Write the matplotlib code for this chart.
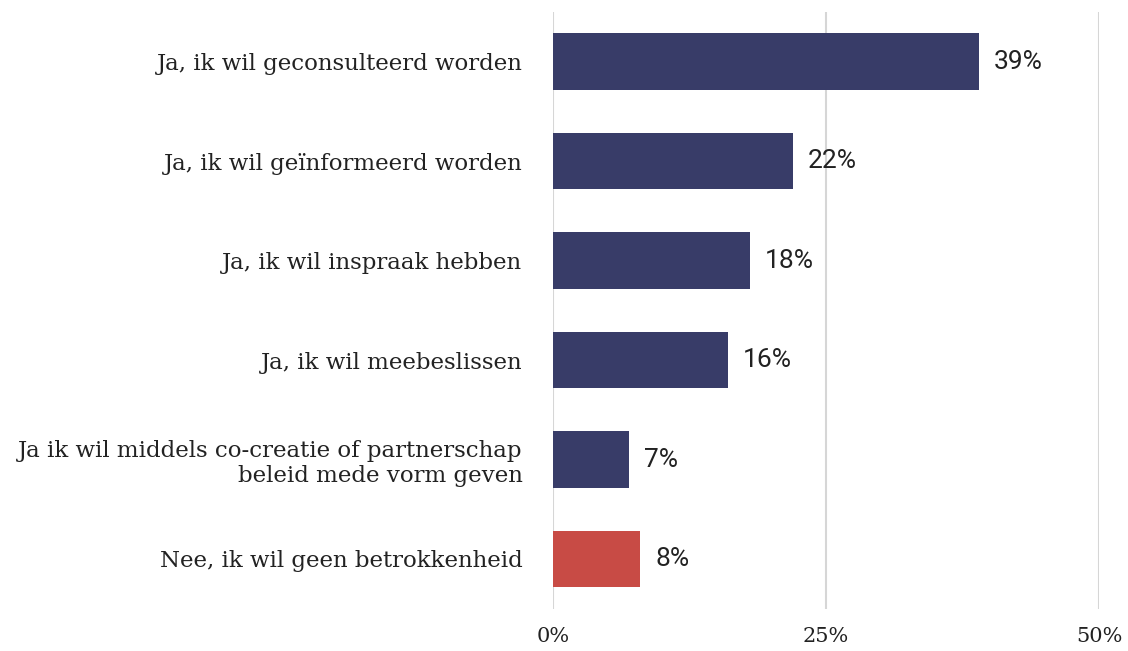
import matplotlib.pyplot as plt
from matplotlib.ticker import FuncFormatter

categories = [
    'Ja, ik wil geconsulteerd worden',
    'Ja, ik wil geïnformeerd worden',
    'Ja, ik wil inspraak hebben',
    'Ja, ik wil meebeslissen',
    'Ja ik wil middels co-creatie of partnerschap\nbeleid mede vorm geven',
    'Nee, ik wil geen betrokkenheid',
]
values = [39, 22, 18, 16, 7, 8]
colors = ['#383c68'] * 5 + ['#c84b45']
ticks = [0, 25, 50]

fig = plt.figure(figsize=(11.28, 6.51), dpi=100)
ax = fig.add_axes([0.4902, 0.065, 0.4841, 0.9166])

y = list(range(len(categories)))
bars = ax.barh(y, values, height=0.57, color=colors, zorder=3)
ax.set_ylim(len(categories) - 0.5, -0.5)
ax.set_xlim(0, 50)

ax.set_xticks(ticks)
ax.xaxis.set_major_formatter(FuncFormatter(lambda v, p: f'{v:.0f}%'))
ax.grid(axis='x', color='#d6d6d6', linewidth=1.5, zorder=0)
for s in ax.spines.values():
    s.set_visible(False)
ax.tick_params(axis='x', length=0, pad=13, labelsize=15, colors='#222222')
ax.tick_params(axis='y', length=0, pad=22, labelsize=16.5, colors='#222222')
for lbl in ax.get_xticklabels():
    lbl.set_family('DejaVu Serif')

ax.set_yticks(y)
ax.set_yticklabels(categories, family='DejaVu Serif', linespacing=1.15)

# value labels next to the bars
for b, v in zip(bars, values):
    ax.annotate(f'{v}%', (b.get_width(), b.get_y() + b.get_height() / 2),
                xytext=(15, 0), textcoords='offset pixels',
                va='center', ha='left', fontsize=19, family='Roboto', color='#222222')

fig.savefig('out.png', dpi=100)
